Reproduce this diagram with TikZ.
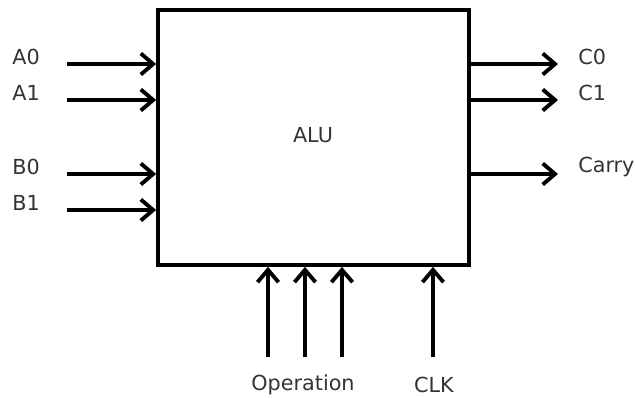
\documentclass[tikz,border=0pt]{standalone}
\usepackage{fontspec}
\setmainfont{DejaVu Sans}
\usetikzlibrary{arrows.meta, positioning}

\tikzset{
  sig/.style={line width=2.2pt, -{Straight Barb[length=7pt, width=12pt, line width=2.2pt]}},
  lbl/.style={font=\fontsize{11.8}{14}\selectfont, text=black!80, inner sep=0pt},
}

\begin{document}
\begin{tikzpicture}[x=0.02cm, y=-0.02cm]

    \useasboundingbox (0,0) rectangle (635,398);

    % ALU block
    \node[draw, line width=2.2pt, minimum width=6.22cm, minimum height=5.1cm,
          inner sep=0pt] (alu) at (313.5,137.5) {};
    \node[lbl] (alulbl) at (313,135) {ALU};

    % Inputs A and B
    \foreach \n/\y/\t in {a0/64/A0, a1/100/A1, b0/174/B0, b1/210/B1}{
      \coordinate (\n) at (67,\y);
      \node[lbl, anchor=west] (\n lbl) at (12,\y-7) {\t};
      \draw[sig] (\n) -- (\n -| alu.west);
    }

    % Outputs
    \foreach \n/\y/\t in {c0/64/C0, c1/100/C1, carry/174/Carry}{
      \coordinate (\n) at (558,\y);
      \node[lbl, anchor=west] (\n lbl) at (578,\y-7) {\t};
      \draw[sig] (\n -| alu.east) -- (\n);
    }

    % Operation and clock
    \foreach \n/\x in {op1/268, op2/305, op3/342, clk/433}{
      \coordinate (\n) at (\x,357);
      \draw[sig] (\n) -- (\n |- alu.south);
    }
    \node[lbl] (oplbl) at (303,385) {Operation};
    \node[lbl] (clklbl) at (434,385) {CLK};

  \end{tikzpicture}
\end{document}
